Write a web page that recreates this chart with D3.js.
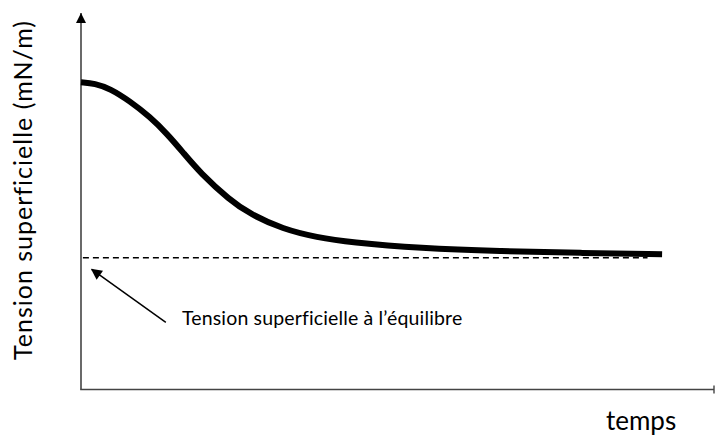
<!DOCTYPE html>
<html>
<head>
<meta charset="utf-8">
<script src="https://cdn.jsdelivr.net/npm/d3@7"></script>
<style>
  html, body { margin: 0; padding: 0; background: #fff; }
  svg { display: block; }
  text { font-family: Lato, "Open Sans", sans-serif; fill: #000; }
</style>
</head>
<body>
<svg id="chart" width="715" height="437"></svg>
<script>
// ---- data (arbitrary units) ----
const times    = [0, 2.2, 4.6, 7.7, 10.9, 13.6, 16.1, 18.8, 23.5, 26.7, 31.9, 37.3, 42.5, 53.6, 66.2, 78.8, 91.8];
const tensions = [81.6, 81.3, 79.9, 76.6, 72.4, 67.9, 63.0, 57.6, 50.3, 46.6, 42.6, 40.4, 39.1, 37.5, 36.7, 36.3, 35.9];
const equilibrium = 35.0;
const equilibriumRange = [0.3, 89.5];
const annotationArrow = [[13.4, 17.8], [1.7, 31.9]]; // [tail, tip]
const yLabel = "Tension superficielle (mN/m)";
const xLabel = "temps";
const annotationText = "Tension superficielle à l’équilibre";

const svg = d3.select("#chart");
const x = d3.scaleLinear().domain([0, 100]).range([81, 714]);
const y = d3.scaleLinear().domain([0, 100]).range([389.5, 13]);

const defs = svg.append("defs");
defs.append("marker").attr("id", "axArrow")
  .attr("viewBox", "0 0 10 10").attr("refX", 10).attr("refY", 5)
  .attr("markerWidth", 10).attr("markerHeight", 11).attr("markerUnits", "userSpaceOnUse")
  .attr("orient", "auto")
  .append("path").attr("d", "M0,0 L10,5 L0,10 Z").attr("fill", "#000");
defs.append("marker").attr("id", "annArrow")
  .attr("viewBox", "0 0 10 10").attr("refX", 9).attr("refY", 5)
  .attr("markerWidth", 14).attr("markerHeight", 11).attr("markerUnits", "userSpaceOnUse")
  .attr("orient", "auto")
  .append("path").attr("d", "M0,0 L10,5 L0,10 Z").attr("fill", "#000");

// axes
svg.append("line")
  .attr("x1", x(0)).attr("y1", y(0)).attr("x2", x(0)).attr("y2", y(100))
  .attr("stroke", "#444").attr("stroke-width", 1.6)
  .attr("marker-end", "url(#axArrow)");
svg.append("line")
  .attr("x1", x(0) - 0.8).attr("y1", y(0)).attr("x2", x(100)).attr("y2", y(0))
  .attr("stroke", "#444").attr("stroke-width", 1.6);
svg.append("line")
  .attr("x1", x(100)).attr("y1", y(0) - 4).attr("x2", x(100)).attr("y2", y(0) + 4)
  .attr("stroke", "#444").attr("stroke-width", 1.4);

// equilibrium dashed line
svg.append("line")
  .attr("x1", x(equilibriumRange[0])).attr("x2", x(equilibriumRange[1]))
  .attr("y1", y(equilibrium)).attr("y2", y(equilibrium))
  .attr("stroke", "#000").attr("stroke-width", 1.4)
  .attr("stroke-dasharray", "6,4");

// curve
const pts = times.map((t, i) => [t, tensions[i]]);
const line = d3.line().x(d => x(d[0])).y(d => y(d[1])).curve(d3.curveBasis);
svg.append("path").datum(pts)
  .attr("d", line)
  .attr("fill", "none").attr("stroke", "#000").attr("stroke-width", 6)
  .attr("stroke-linecap", "butt");

// annotation arrow
svg.append("line")
  .attr("x1", x(annotationArrow[0][0])).attr("y1", y(annotationArrow[0][1]))
  .attr("x2", x(annotationArrow[1][0])).attr("y2", y(annotationArrow[1][1]))
  .attr("stroke", "#000").attr("stroke-width", 1.5)
  .attr("marker-end", "url(#annArrow)");

// texts
svg.append("text").attr("x", 182).attr("y", 325)
  .attr("font-size", 19.5).attr("letter-spacing", 0.15).text(annotationText);
svg.append("text").attr("x", 606).attr("y", 430)
  .attr("font-size", 26).text(xLabel);
svg.append("text")
  .attr("transform", "translate(32,190) rotate(-90)")
  .attr("text-anchor", "middle")
  .attr("font-size", 25).attr("letter-spacing", 1).text(yLabel);
</script>
</body>
</html>
